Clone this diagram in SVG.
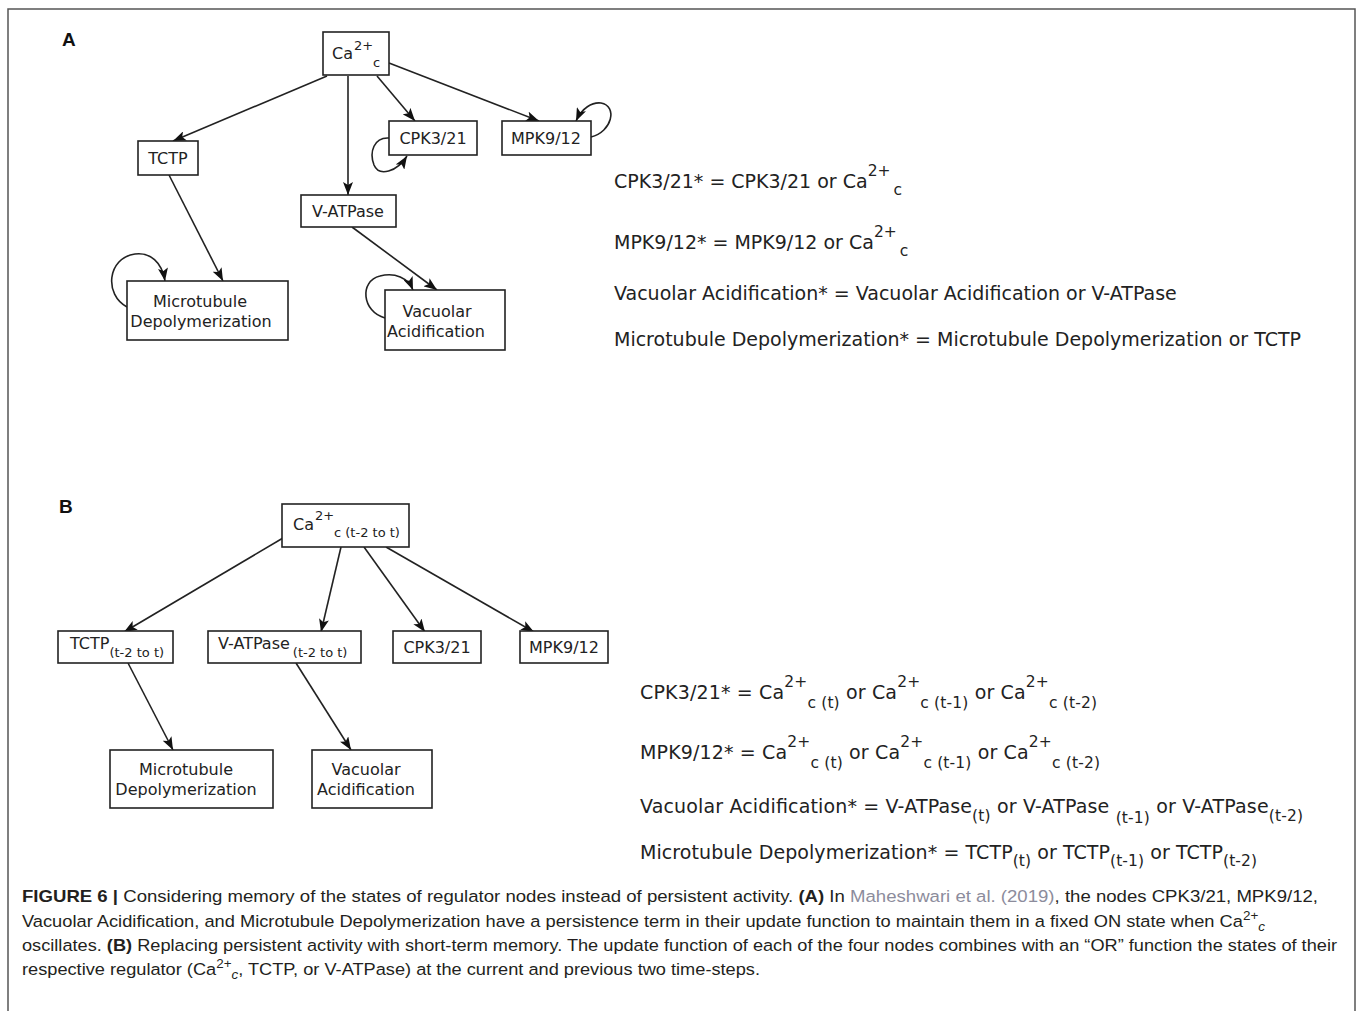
<svg xmlns="http://www.w3.org/2000/svg" width="1357" height="1011" viewBox="0 0 1357 1011">
<style>
.bg{fill:#fff}
.box{fill:#fff;stroke:#222;stroke-width:1.6}
.lbl{font-family:"DejaVu Sans",sans-serif;font-size:16px;fill:#222;text-anchor:middle}
.lbll{font-family:"DejaVu Sans",sans-serif;font-size:16px;fill:#222}
.sup{font-size:13px}
.eq{font-family:"DejaVu Sans",sans-serif;font-size:19px;fill:#222}
.es{font-size:15.5px}
.edge{fill:none;stroke:#222;stroke-width:1.6;marker-end:url(#ah)}
.panel{font-family:"Liberation Sans",Arial,sans-serif;font-weight:bold;font-size:19px;fill:#111}
.cap{font-family:"Liberation Sans",Arial,sans-serif;font-size:16.3px;fill:#231f20}
.b{font-weight:bold}
.ref{fill:#8c8c9c}
.frame{fill:none;stroke:#555;stroke-width:1.5}
</style>
<defs>
<marker id="ah" markerWidth="13" markerHeight="10" refX="13" refY="5" orient="auto" markerUnits="userSpaceOnUse">
<path d="M0,0 L13,5 L0,10 L3,5 z" fill="#111"/>
</marker>
</defs>
<rect class="bg" x="0" y="0" width="1357" height="1011"/>
<path class="frame" d="M8,1011 L8,9 L1355,9 L1355,1011"/>

<text class="panel" x="62" y="46">A</text>
<text class="panel" x="59" y="513">B</text>

<!-- Panel A connectors -->
<g id="connectors-a">
<path class="edge" d="M327,76 L173,141"/>
<path class="edge" d="M348,76 L348,195"/>
<path class="edge" d="M377,76 L415,121"/>
<path class="edge" d="M389,63 L539,121"/>
<path class="edge" d="M169,175 L223,281"/>
<path class="edge" d="M352,227 L437,290"/>
<path class="edge" d="M591,137 C612,132 618,106 601,103 C592,102 582,108 576,121"/>
<path class="edge" d="M389,138 C374,137 369,152 374,165 C379,177 397,172 407,156"/>
<path class="edge" d="M127,307 C104,295 107,258 135,254 C150,252 162,262 165,281"/>
<path class="edge" d="M385,318 C362,312 359,281 380,276 C395,272 408,278 413,290"/>
</g>

<!-- Panel A nodes -->
<g id="a-ca">
<rect class="box" x="323" y="32" width="66" height="43"/>
<text class="lbll" x="332" y="59">Ca<tspan class="sup" x="354" y="50">2+</tspan><tspan class="sup" x="373" y="67">c</tspan></text>
</g>
<g id="a-tctp">
<rect class="box" x="138" y="141" width="60" height="34"/>
<text class="lbl" x="168" y="164">TCTP</text>
</g>
<g id="a-cpk">
<rect class="box" x="389" y="121" width="88" height="34"/>
<text class="lbl" x="433" y="144">CPK3/21</text>
</g>
<g id="a-mpk">
<rect class="box" x="502" y="121" width="89" height="34"/>
<text class="lbl" x="546" y="144">MPK9/12</text>
</g>
<g id="a-vatpase">
<rect class="box" x="301" y="195" width="95" height="32"/>
<text class="lbl" x="348" y="217">V-ATPase</text>
</g>
<g id="a-micro">
<rect class="box" x="127" y="281" width="161" height="59"/>
<text class="lbl" x="200" y="307">Microtubule</text>
<text class="lbl" x="201" y="327">Depolymerization</text>
</g>
<g id="a-vac">
<rect class="box" x="385" y="290" width="120" height="60"/>
<text class="lbl" x="437" y="317">Vacuolar</text>
<text class="lbl" x="436" y="337">Acidification</text>
</g>

<!-- Panel A equations -->
<g id="a-equations">
<text class="eq" x="614" y="188">CPK3/21* = CPK3/21 or Ca<tspan class="es" y="176">2+</tspan><tspan class="es" dx="3" y="195">c</tspan></text>
<text class="eq" x="614" y="249">MPK9/12* = MPK9/12 or Ca<tspan class="es" y="237">2+</tspan><tspan class="es" dx="3" y="256">c</tspan></text>
<text class="eq" x="614" y="300">Vacuolar Acidification* = Vacuolar Acidification or V-ATPase</text>
<text class="eq" x="614" y="346">Microtubule Depolymerization* = Microtubule Depolymerization or TCTP</text>
</g>

<!-- Panel B connectors -->
<g id="connectors-b">
<path class="edge" d="M283,538 L124,632"/>
<path class="edge" d="M341,547 L321,632"/>
<path class="edge" d="M364,547 L425,632"/>
<path class="edge" d="M386,547 L534,632"/>
<path class="edge" d="M128,663 L173,750"/>
<path class="edge" d="M296,663 L351,750"/>
</g>

<!-- Panel B nodes -->
<g id="b-ca">
<rect class="box" x="282" y="504" width="127" height="43"/>
<text class="lbll" x="293" y="530">Ca<tspan class="sup" x="315" y="520">2+</tspan><tspan class="sup" x="334" y="537">c (t-2 to t)</tspan></text>
</g>
<g id="b-tctp">
<rect class="box" x="58" y="631" width="115" height="32"/>
<text class="lbll" x="70" y="649">TCTP<tspan class="sup" y="657">(t-2 to t)</tspan></text>
</g>
<g id="b-vatpase">
<rect class="box" x="208" y="631" width="153" height="32"/>
<text class="lbll" x="218" y="649">V-ATPase<tspan class="sup" dx="3" y="657">(t-2 to t)</tspan></text>
</g>
<g id="b-cpk">
<rect class="box" x="393" y="631" width="88" height="32"/>
<text class="lbl" x="437" y="653">CPK3/21</text>
</g>
<g id="b-mpk">
<rect class="box" x="520" y="631" width="88" height="32"/>
<text class="lbl" x="564" y="653">MPK9/12</text>
</g>
<g id="b-micro">
<rect class="box" x="110" y="750" width="163" height="58"/>
<text class="lbl" x="186" y="775">Microtubule</text>
<text class="lbl" x="186" y="795">Depolymerization</text>
</g>
<g id="b-vac">
<rect class="box" x="312" y="750" width="120" height="58"/>
<text class="lbl" x="366" y="775">Vacuolar</text>
<text class="lbl" x="366" y="795">Acidification</text>
</g>

<!-- Panel B equations -->
<g id="b-equations">
<text class="eq" x="640" y="699" textLength="457">CPK3/21* = Ca<tspan class="es" y="687">2+</tspan><tspan class="es" y="708">c (t)</tspan><tspan y="699"> or Ca</tspan><tspan class="es" y="687">2+</tspan><tspan class="es" y="708">c (t-1)</tspan><tspan y="699"> or Ca</tspan><tspan class="es" y="687">2+</tspan><tspan class="es" y="708">c (t-2)</tspan></text>
<text class="eq" x="640" y="759" textLength="460">MPK9/12* = Ca<tspan class="es" y="747">2+</tspan><tspan class="es" y="768">c (t)</tspan><tspan y="759"> or Ca</tspan><tspan class="es" y="747">2+</tspan><tspan class="es" y="768">c (t-1)</tspan><tspan y="759"> or Ca</tspan><tspan class="es" y="747">2+</tspan><tspan class="es" y="768">c (t-2)</tspan></text>
<text class="eq" x="640" y="813" textLength="663">Vacuolar Acidification* = V-ATPase<tspan class="es" y="821">(t)</tspan><tspan y="813"> or V-ATPase </tspan><tspan class="es" y="823">(t-1)</tspan><tspan y="813"> or V-ATPase</tspan><tspan class="es" y="821">(t-2)</tspan></text>
<text class="eq" x="640" y="859" textLength="617">Microtubule Depolymerization* = TCTP<tspan class="es" y="866">(t)</tspan><tspan y="859"> or TCTP</tspan><tspan class="es" y="866">(t-1)</tspan><tspan y="859"> or TCTP</tspan><tspan class="es" y="866">(t-2)</tspan></text>
</g>

<!-- Caption -->
<g id="caption">
<text class="cap" x="22" y="902" textLength="1296" lengthAdjust="spacingAndGlyphs"><tspan class="b">FIGURE 6 |</tspan> Considering memory of the states of regulator nodes instead of persistent activity. <tspan class="b">(A)</tspan> In <tspan class="ref">Maheshwari et al. (2019)</tspan>, the nodes CPK3/21, MPK9/12,</text>
<text class="cap" x="22" y="927" textLength="1243" lengthAdjust="spacingAndGlyphs">Vacuolar Acidification, and Microtubule Depolymerization have a persistence term in their update function to maintain them in a fixed ON state when Ca<tspan font-size="12" y="920">2+</tspan><tspan font-size="12" font-style="italic" y="931">c</tspan></text>
<text class="cap" x="22" y="951" textLength="1315" lengthAdjust="spacingAndGlyphs">oscillates. <tspan class="b">(B)</tspan> Replacing persistent activity with short-term memory. The update function of each of the four nodes combines with an “OR” function the states of their</text>
<text class="cap" x="22" y="975" textLength="738" lengthAdjust="spacingAndGlyphs">respective regulator (Ca<tspan font-size="12" y="968">2+</tspan><tspan font-size="12" font-style="italic" y="979">c</tspan><tspan y="975">, TCTP, or V-ATPase) at the current and previous two time-steps.</tspan></text>
</g>
</svg>
